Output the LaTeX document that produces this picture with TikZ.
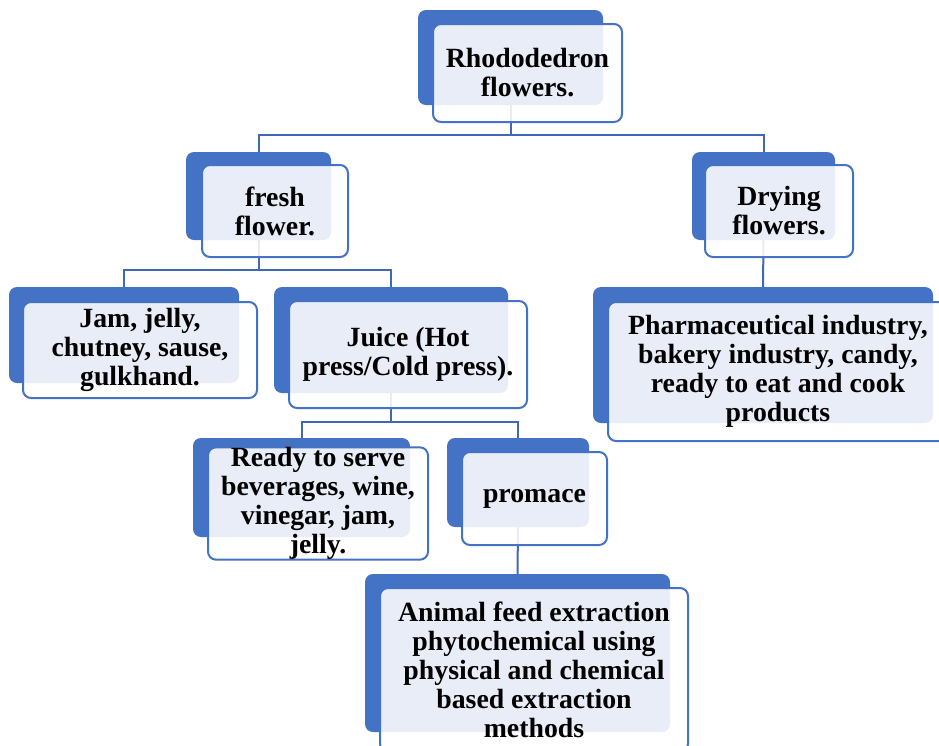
\documentclass[tikz,border=0pt]{standalone}
\usepackage{fontspec}
\setmainfont{Liberation Serif}
\definecolor{boxblue}{HTML}{4472C4}
\definecolor{lineblue}{HTML}{4068B4}
\begin{document}
\begin{tikzpicture}[x=1pt,y=-1pt,
  back/.style={draw=none, fill=boxblue, rounded corners=8pt, inner sep=0pt, outer sep=0pt},
  front/.style={draw=boxblue, line width=2pt, fill=white, fill opacity=0.88, text opacity=1,
    rounded corners=8pt, inner sep=0pt, outer sep=0pt, align=center, text=black,
    font=\fontsize{27.8}{29}\selectfont\bfseries},
  conn/.style={draw=lineblue, line width=2pt}]
\clip (0,0) rectangle (939,745);
\fill[white] (0,0) rectangle (939,745);
% back boxes
\node[back, minimum width=185pt, minimum height=95pt] (rootB) at (510.5,57.5) {};
\node[back, minimum width=145pt, minimum height=88pt] (freshB) at (258.5,196) {};
\node[back, minimum width=143pt, minimum height=88pt] (dryB) at (763.5,196) {};
\node[back, minimum width=230pt, minimum height=96pt] (jamB) at (124,335) {};
\node[back, minimum width=234pt, minimum height=106pt] (juiceB) at (391,340) {};
\node[back, minimum width=340pt, minimum height=136pt] (pharmaB) at (763,355) {};
\node[back, minimum width=217pt, minimum height=99pt] (readyB) at (301.5,487.5) {};
\node[back, minimum width=142pt, minimum height=89pt] (promB) at (518,482.5) {};
\node[back, minimum width=305pt, minimum height=158pt] (animalB) at (517.5,653) {};
% connectors
\coordinate (bus1) at (510.5,135);
\coordinate (bus2) at (258.5,270);
\coordinate (bus3) at (391,422);
\draw[conn] (rootB.south) -- (bus1);
\draw[conn] (bus1) -| (freshB.north);
\draw[conn] (bus1) -| (dryB.north);
\draw[conn] (freshB.south) -- (bus2);
\draw[conn] (bus2) -| (jamB.north);
\draw[conn] (bus2) -| (juiceB.north);
\draw[conn] (dryB.south) -- (pharmaB.north);
\draw[conn] (juiceB.south) -- (bus3);
\draw[conn] (bus3) -| (readyB.north);
\draw[conn] (bus3) -| (promB.north);
\draw[conn] (promB.south) -- (animalB.north);
% front boxes with text
\node[front, minimum width=189pt, minimum height=98pt] (root) at (527.5,73) {Rhododedron\\flowers.};
\node[front, minimum width=146pt, minimum height=92pt] (fresh) at (275,211) {fresh\\flower.};
\node[front, minimum width=148pt, minimum height=92pt] (dry) at (779,211) {Drying\\flowers.};
\node[front, minimum width=234pt, minimum height=96pt] (jam) at (140,350) {Jam, jelly,\\chutney, sause,\\gulkhand.};
\node[front, minimum width=238pt, minimum height=107pt] (juice) at (408,354.5) {Juice (Hot\\press/Cold press).};
\node[front, minimum width=340pt, minimum height=139pt] (pharma) at (778,371.5) {Pharmaceutical industry,\\bakery industry, candy,\\ready to eat and cook\\products};
\node[front, minimum width=220pt, minimum height=103pt] (ready) at (318,503.5) {Ready to serve\\beverages, wine,\\vinegar, jam,\\jelly.};
\node[front, minimum width=145pt, minimum height=93pt] (prom) at (534.5,498.5) {promace};
\node[front, minimum width=308pt, minimum height=164pt] (animal) at (534,670) {Animal feed extraction\\phytochemical using\\physical and chemical\\based extraction\\methods};
\end{tikzpicture}
\end{document}
